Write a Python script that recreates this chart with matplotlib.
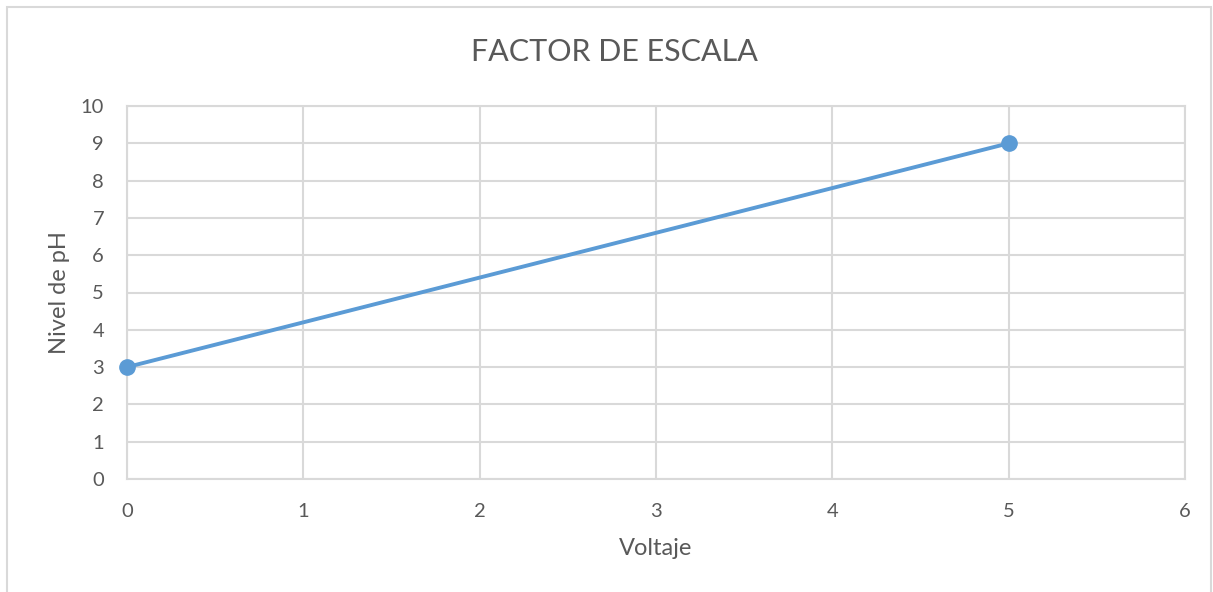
import matplotlib
matplotlib.use("Agg")
import matplotlib.pyplot as plt
from matplotlib.patches import Rectangle

voltaje = [0, 5]
nivel_ph = [3, 9]
x_ticks = [0, 1, 2, 3, 4, 5, 6]
y_ticks = [0, 1, 2, 3, 4, 5, 6, 7, 8, 9, 10]

plt.rcParams['font.family'] = ['Lato', 'DejaVu Sans']
gray = '#595959'
grid_c = '#d9d9d9'

fig = plt.figure(figsize=(12.13, 5.92), dpi=100)
W, H = 1213, 592
fig.patches.append(Rectangle((7 / W, -0.05), (1211 - 7) / W, 1 - 7 / H + 0.05,
                             transform=fig.transFigure, fill=False,
                             edgecolor=grid_c, linewidth=1.5))
ax = fig.add_axes([127 / W, 1 - 479 / H, (1185 - 127) / W, (479 - 106) / H])
ax.set_xlim(0, 6)
ax.set_ylim(0, 10)
ax.set_xticks(x_ticks)
ax.set_yticks(y_ticks)
ax.grid(True, color=grid_c, linewidth=1.5)
ax.set_axisbelow(True)
for s in ax.spines.values():
    s.set_color(grid_c)
    s.set_linewidth(1.5)
ax.tick_params(length=0, labelsize=14.5, labelcolor=gray)
ax.tick_params(axis='x', pad=17)
ax.tick_params(axis='y', pad=16.5)
ax.plot(voltaje, nivel_ph, color='#5b9bd5', linewidth=2.8, marker='o',
        markersize=11, clip_on=False, zorder=3)
ax.set_xlabel('Voltaje', fontsize=17, color=gray, labelpad=13)
ax.set_ylabel('Nivel de pH', fontsize=17, color=gray, labelpad=8)
fig.text(614 / W, 1 - 52 / H, 'FACTOR DE ESCALA', fontsize=22, color=gray,
         ha='center', va='center')
fig.savefig('out.png', dpi=100)
